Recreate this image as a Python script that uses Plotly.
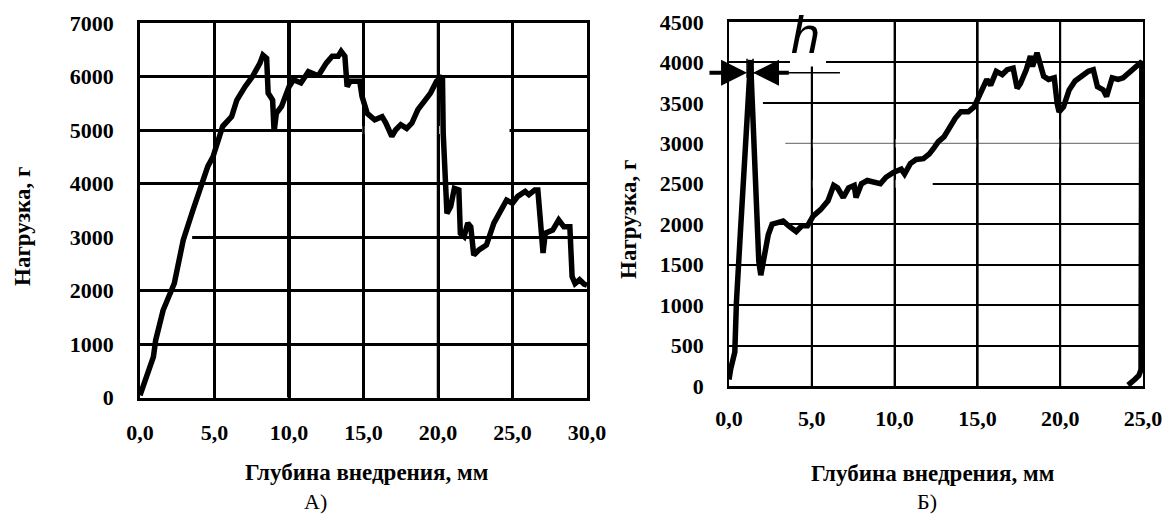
import plotly.graph_objects as go

# ---------------- data: chart A ----------------
depth_a = [0.0, 0.9, 1.05, 1.55, 2.3, 2.9, 3.55, 4.05, 4.55, 4.9, 5.3, 5.55, 6.15, 6.5, 7.05,
           7.55, 8.05, 8.25, 8.5, 8.6, 8.9, 9.0, 9.15, 9.5, 10.0, 10.3, 10.8, 11.3, 11.8, 12.0,
           12.5, 12.9, 13.3, 13.5, 13.75, 13.9, 14.1, 14.75, 14.9, 15.25, 15.75, 16.25, 16.5,
           16.9, 17.15, 17.5, 17.9, 18.25, 18.65, 19.1, 19.5, 19.9, 20.1, 20.3, 20.35, 20.5,
           20.6, 20.85, 21.1, 21.4, 21.5, 21.75, 22.0, 22.2, 22.4, 22.75, 23.25, 23.75, 24.25,
           24.6, 25.0, 25.35, 25.85, 26.1, 26.5, 26.7, 26.85, 27.05, 27.2, 27.7, 28.1, 28.45,
           28.85, 29.0, 29.2, 29.5, 29.8, 30.0]
load_a = [40, 760, 1070, 1630, 2130, 2940, 3500, 3940, 4320, 4500, 4880, 5070, 5250, 5560, 5810,
          6000, 6250, 6400, 6340, 5690, 5560, 4970, 5310, 5440, 5810, 5940, 5880, 6090, 6030, 6030,
          6250, 6380, 6380, 6470, 6380, 5810, 5910, 5910, 5630, 5310, 5190, 5250, 5130,
          4880, 5000, 5100, 5030, 5130, 5380, 5530, 5690, 5910, 5970, 6000, 4940, 3940,
          3440, 3570, 3910, 3880, 3070, 3010, 3260, 3190, 2660, 2760, 2850, 3260, 3540,
          3690, 3630, 3760, 3850, 3790, 3880, 3880, 3380, 2700, 3070, 3130, 3320, 3190,
          3190, 2260, 2130, 2200, 2120, 2100]

# ---------------- data: chart B ----------------
depth_b = [0.0, 0.1, 0.35, 0.45, 0.68, 1.0, 1.24, 1.3, 1.4, 1.58, 1.8, 1.92, 2.15, 2.37, 2.6,
           2.93, 3.27, 3.6, 4.06, 4.4, 4.74, 5.08, 5.53, 5.98, 6.32, 6.55, 6.9, 7.22, 7.56, 7.67,
           8.0, 8.35, 8.8, 9.14, 9.48, 9.93, 10.4, 10.6, 10.95, 11.3, 11.74, 12.1, 12.4, 12.64,
           12.98, 13.3, 13.66, 14.0, 14.45, 14.8, 15.0, 15.24, 15.57, 15.8, 16.14, 16.5, 16.8,
           17.16, 17.4, 17.6, 17.95, 18.2, 18.33, 18.6, 18.8, 19.0, 19.3, 19.64, 19.82, 19.93,
           20.2, 20.54, 20.9, 21.35, 21.7, 22.0, 22.25, 22.6, 22.8, 23.14, 23.5, 23.8, 24.26,
           24.7, 24.93, 24.88, 24.75, 24.5, 24.1]
load_b = [80, 210, 420, 1040, 1870, 2910, 3830, 4030, 3540, 2500, 1540, 1370, 1620, 1870, 2000,
          2020, 2040, 1980, 1910, 1980, 1980, 2100, 2180, 2290, 2480, 2450, 2330, 2450, 2480, 2330,
          2500, 2540, 2520, 2500, 2580, 2640, 2680, 2620, 2750, 2800, 2810, 2870, 2950, 3020,
          3080, 3200, 3310, 3390, 3390, 3450, 3540, 3660, 3790, 3720, 3890, 3850, 3910,
          3930, 3680, 3740, 3910, 4080, 3950, 4120, 3950, 3830, 3790, 3810, 3490, 3390,
          3450, 3660, 3770, 3850, 3890, 3910, 3700, 3660, 3580, 3810, 3790, 3810, 3890,
          3970, 4010, 200, 130, 80, 10]

# ---------------- ticks ----------------
x_ticks_a = [0, 5, 10, 15, 20, 25, 30]
x_labels_a = ["0,0", "5,0", "10,0", "15,0", "20,0", "25,0", "30,0"]
y_ticks_a = [0, 1000, 2000, 3000, 4000, 5000, 6000, 7000]
y_labels_a = ["0", "1000", "2000", "3000", "4000", "5000", "6000", "7000"]
x_ticks_b = [0, 5, 10, 15, 20, 25]
x_labels_b = ["0,0", "5,0", "10,0", "15,0", "20,0", "25,0"]
y_ticks_b = [0, 500, 1000, 1500, 2000, 2500, 3000, 3500, 4000, 4500]
y_labels_b = ["0", "500", "1000", "1500", "2000", "2500", "3000", "3500", "4000", "4500"]

# "h" marker on chart B (peak width marker)
h_level = 3874
h_left_tail, h_left_tip = -1.27, 1.09
h_right_tail, h_right_tip = 3.7, 1.45
h_line_end = 6.7
h_tick_low, h_tick_high = 3812, 4047

# scanned-grid appearance: stretches of horizontal grid lines that are missing in the scan
grid_gaps = [("A", 3000, 0.0, 3.5), ("A", 5000, 14.9, 24.8),
             ("B", 3500, 0.0, 2.05), ("B", 3000, 0.0, 25.0),
             ("B", 2500, 0.0, 12.3), ("B", 2000, 0.0, 3.0)]
faint_grid = [("B", 3000, 3.4, 25.0)]
vgrid_width_a = {5: 2.5, 10: 4, 15: 2.5, 20: 2.5, 25: 2.5}
vgrid_width_b = {5: 2, 10: 2, 15: 2.5, 20: 2}

W, H = 1165, 526
SERIF = "Liberation Serif"
tickfont = dict(family=SERIF, size=22, color="black", weight="bold")
titlefont = dict(family=SERIF, size=23, color="black", weight="bold")

fig = go.Figure()
fig.add_trace(go.Scatter(x=depth_a, y=load_a, mode="lines", xaxis="x", yaxis="y",
                         line=dict(color="black", width=5.5), showlegend=False, hoverinfo="skip"))
fig.add_trace(go.Scatter(x=depth_b, y=load_b, mode="lines", xaxis="x2", yaxis="y2",
                         line=dict(color="black", width=5.5), showlegend=False, hoverinfo="skip"))

common = dict(showgrid=True, gridcolor="black", gridwidth=2.5, zeroline=False,
              showline=True, linecolor="black", linewidth=2.5, mirror=True,
              ticks="", tickfont=tickfont, tickmode="array", fixedrange=True)

fig.update_layout(
    width=W, height=H, margin=dict(l=0, r=0, t=0, b=0, autoexpand=False),
    paper_bgcolor="white", plot_bgcolor="white", showlegend=False,
    xaxis=dict(common, domain=[140 / W, 587 / W], range=[0, 30], anchor="y",
               tickvals=x_ticks_a, ticktext=x_labels_a, ticklabelstandoff=13),
    yaxis=dict(common, domain=[(H - 397.5) / H, (H - 23) / H], range=[0, 7000], anchor="x",
               tickvals=y_ticks_a, ticktext=y_labels_a, ticklabelstandoff=19),
    xaxis2=dict(common, domain=[729 / W, 1143 / W], range=[0, 25], anchor="y2",
                tickvals=x_ticks_b, ticktext=x_labels_b, ticklabelstandoff=11, gridwidth=2),
    yaxis2=dict(common, domain=[(H - 386) / H, (H - 22) / H], range=[0, 4500], anchor="x2",
                tickvals=y_ticks_b, ticktext=y_labels_b, ticklabelstandoff=19, gridwidth=2,
                linewidth=1.5),
)


def paper_text(text, xpx, ypx, font, angle=0):
    return dict(text=text, x=xpx / W, y=(H - ypx) / H, xref="paper", yref="paper",
                xanchor="center", yanchor="middle", showarrow=False, textangle=angle,
                font=font)


ann = [
    paper_text("Нагрузка, г", 23, 227, titlefont, -90),
    paper_text("Нагрузка, г", 628, 220, titlefont, -90),
    paper_text("Глубина внедрения, мм", 366, 472, titlefont),
    paper_text("Глубина внедрения, мм", 932, 473, titlefont),
    paper_text("А)", 316, 501, dict(family=SERIF, size=22, color="black")),
    paper_text("Б)", 927, 501, dict(family=SERIF, size=22, color="black")),
    paper_text("<i>h</i>", 805, 35, dict(family="Liberation Sans", size=52, color="black")),
]
# inward-pointing arrows
for tail, tip in ((h_left_tail, h_left_tip), (h_right_tail, h_right_tip)):
    ann.append(dict(text="", x=tip, y=h_level, ax=tail, ay=h_level,
                    xref="x2", yref="y2", axref="x2", ayref="y2", showarrow=True,
                    arrowhead=2, arrowsize=1.3, arrowwidth=4, arrowcolor="black"))
fig.update_layout(annotations=ann)

refs = {"A": ("x", "y", 75), "B": ("x2", "y2", 50)}
yspan = {"A": (0, 7000), "B": (0, 4500)}
shapes = []
for sub, level, x0, x1 in grid_gaps:
    xr, yr, half = refs[sub]
    shapes.append(dict(type="rect", xref=xr, yref=yr, x0=x0, x1=x1, y0=level - half,
                       y1=level + half, fillcolor="white", line=dict(width=0),
                       layer="between"))
for sub, level, x0, x1 in faint_grid:
    xr, yr, _ = refs[sub]
    shapes.append(dict(type="line", xref=xr, yref=yr, x0=x0, x1=x1, y0=level, y1=level,
                       line=dict(color="#808080", width=1.3), layer="between"))
# vertical grid lines redrawn on top of the blanked stretches
for sub, widths in (("A", vgrid_width_a), ("B", vgrid_width_b)):
    xr, yr, _ = refs[sub]
    lo, hi = yspan[sub]
    for xv, wdt in widths.items():
        shapes.append(dict(type="line", xref=xr, yref=yr, x0=xv, x1=xv, y0=lo, y1=hi,
                           line=dict(color="black", width=wdt), layer="between"))
# white gap in the top grid lines around the "h" label
shapes.append(dict(type="rect", xref="x2", yref="y2", x0=(790 - 729) / 16.56,
                   x1=(826 - 729) / 16.56, y0=3950, y1=4500, fillcolor="white",
                   line=dict(width=0), layer="between"))
# h marker: extension line and the two short vertical strokes at the peak
shapes.append(dict(type="line", xref="x2", yref="y2", x0=h_right_tip, x1=h_line_end,
                   y0=h_level, y1=h_level, line=dict(color="black", width=1.5)))
for xv in (h_left_tip, h_right_tip):
    shapes.append(dict(type="line", xref="x2", yref="y2", x0=xv, x1=xv,
                       y0=h_tick_low, y1=h_tick_high, line=dict(color="black", width=1.5)))
fig.update_layout(shapes=shapes)

fig.write_html("out.html", config={"displayModeBar": False},
               post_script="document.body.style.margin='0';")
